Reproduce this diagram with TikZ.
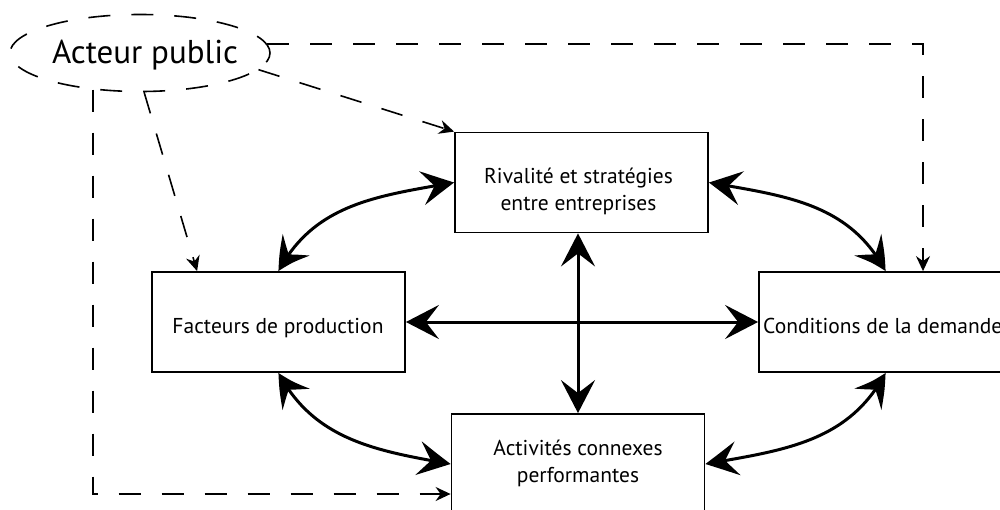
\documentclass[tikz,border=0pt]{standalone}
\usepackage{fontspec}
\setmainfont{PT Sans}
\usetikzlibrary{arrows.meta,bending,shapes.geometric}
\begin{document}
\begin{tikzpicture}[x=1pt,y=-1pt,
  box/.style={draw, line width=1.8pt, minimum width=253pt, minimum height=100pt, inner sep=0pt},
  txt/.style={anchor=base, inner sep=0pt, font=\fontsize{21.5}{27}\selectfont},
  big/.tip={Stealth[length=33pt,width=34pt,inset=13pt,bend]},
  small/.tip={Stealth[length=15pt,width=14pt,inset=5pt]},
  rel/.style={line width=3pt, big-big},
  infl/.style={line width=1.6pt, dash pattern=on 22pt off 21pt, -small},
]
\useasboundingbox (0,0) rectangle (1000,509);
\clip (0,0) rectangle (1000,509);
% ellipse
\node[draw, ellipse, line width=1.6pt, dash pattern=on 22pt off 21pt, minimum width=260pt, minimum height=77pt, inner sep=0pt] (E) at (140,53) {};
\node[anchor=base, inner sep=0pt, font=\fontsize{33}{36}\selectfont] (Et) at (145,63) {Acteur public};
% boxes
\node[box] (R) at (581.5,182.5) {};
\node[box] (F) at (278.5,322) {};
\node[box] (C) at (885.5,322) {};
\node[box] (A) at (578,464) {};
\node[txt] (Rt1) at (578.5,183) {Rivalité et stratégies};
\node[txt] (Rt2) at (578.5,210) {entre entreprises};
\node[txt] (Ft) at (278,333) {Facteurs de production};
\node[txt, anchor=base west] (Ct) at (763,333) {Conditions de la demande};
\node[txt] (At1) at (578,455) {Activités connexes};
\node[txt] (At2) at (578,482) {performantes};
% relations
\draw[rel] (F.east) -- (C.west);
\draw[rel] ([xshift=-3.5pt]R.south) -- (A.north);
\draw[rel] (F.north) to[out=62,in=190] (R.west);
\draw[rel] (R.east) to[out=-10,in=118] (C.north);
\draw[rel] (F.south) to[out=-62,in=170] (A.west);
\draw[rel] (C.south) to[out=-118,in=10] (A.east);
% influences
\draw[infl] (E.4) -| ([xshift=37.5pt]C.north);
\draw[infl] (E.-8) -- (R.north west);
\draw[infl] (E.-84) -- ([xshift=46pt]F.north west);
\draw[infl] (E.-142) |- ([yshift=-30pt]A.west);
\end{tikzpicture}
\end{document}
